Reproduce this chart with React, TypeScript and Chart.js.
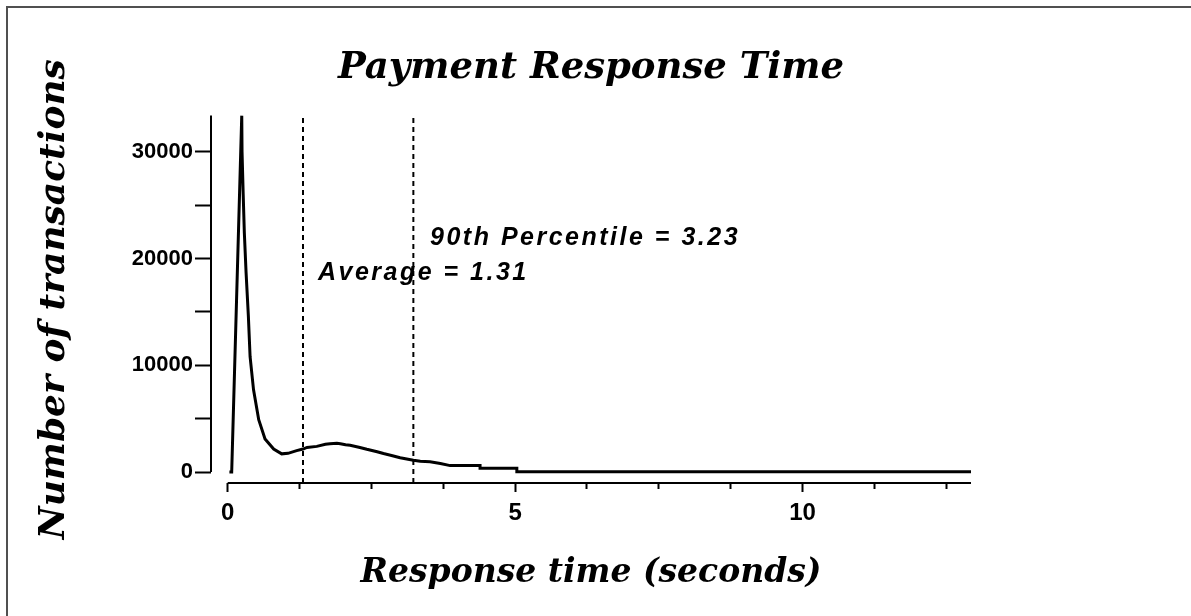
import React, { useEffect, useRef } from "react";
import { Chart, registerables } from "chart.js";

Chart.register(...registerables);

// ---- data ----
const responseTimes = [
  0.03, 0.07, 0.245, 0.25, 0.27, 0.29, 0.32, 0.36, 0.39, 0.45, 0.54, 0.65, 0.8, 0.94, 1.05,
  1.2, 1.31, 1.38, 1.55, 1.7, 1.78, 1.9, 1.96, 2.05, 2.13, 2.3, 2.42, 2.6, 2.71, 2.85, 3.0,
  3.23, 3.35, 3.52, 3.7, 3.87, 4.39, 4.39, 5.03, 5.03, 6.5, 8.0, 10.0, 12.93,
];
const transactionCounts = [
  0, 0, 33400, 30000, 26000, 22400, 18700, 14600, 10800, 7700, 4900, 3100, 2150, 1700, 1750,
  2000, 2150, 2300, 2400, 2600, 2650, 2700, 2650, 2550, 2500, 2300, 2130, 1900, 1730, 1550,
  1330, 1100, 1000, 950, 800, 600, 600, 350, 350, 30, 30, 30, 30, 30,
];
const xTickValues = [0, 1.25, 2.5, 3.75, 5, 6.25, 7.5, 8.75, 10, 11.25, 12.5];
const xLabelledTicks = [0, 5, 10];
const yTickValues = [0, 5000, 10000, 15000, 20000, 25000, 30000];
const yLabelledTicks = [0, 10000, 20000, 30000];

const averageTime = 1.31;
const percentile90Time = 3.23;
const averageLabel = "Average = 1.31";
const percentileLabel = "90th Percentile = 3.23";
const chartTitle = "Payment Response Time";
const xTitle = "Response time (seconds)";
const yTitle = "Number of transactions";

const X_MIN = -0.29;
const X_MAX = 12.93;
const Y_MIN = -1030;
const Y_MAX = 33400;

const serif = "'DejaVu Serif', serif";
const sans = "'Liberation Sans', Arial, sans-serif";

export default function App() {
  const ref = useRef<HTMLCanvasElement | null>(null);

  useEffect(() => {
    const canvas = ref.current;
    if (!canvas) return;

    const axisLines = {
      id: "axisLines",
      beforeDatasetsDraw(chart: any) {
        const { ctx, chartArea, scales } = chart;
        const x = scales.x;
        const y = scales.y;
        ctx.save();
        ctx.strokeStyle = "#000";
        ctx.lineWidth = 2;
        ctx.beginPath();
        ctx.moveTo(chartArea.left, chartArea.top);
        ctx.lineTo(chartArea.left, y.getPixelForValue(0));
        ctx.moveTo(x.getPixelForValue(0), chartArea.bottom);
        ctx.lineTo(chartArea.right, chartArea.bottom);
        ctx.stroke();
        ctx.restore();
      },
    };

    const annotations = {
      id: "annotations",
      afterDatasetsDraw(chart: any) {
        const { ctx, scales } = chart;
        const x = scales.x;
        const y = scales.y;
        ctx.save();
        ctx.fillStyle = "#000";
        ctx.font = `italic bold 25px ${sans}`;
        (ctx as any).letterSpacing = "2.5px";
        ctx.textBaseline = "alphabetic";
        ctx.textAlign = "left";
        ctx.fillText(percentileLabel, x.getPixelForValue(3.52), y.getPixelForValue(21270));
        ctx.fillText(averageLabel, x.getPixelForValue(1.57), y.getPixelForValue(18000));
        ctx.restore();
      },
    };

    const points = responseTimes.map((t, i) => ({ x: t, y: transactionCounts[i] }));
    const vline = (v: number) => [
      { x: v, y: Y_MIN },
      { x: v, y: Y_MAX },
    ];

    const chart = new Chart(canvas, {
      type: "line",
      data: {
        datasets: [
          {
            data: points,
            borderColor: "#000",
            borderWidth: 3,
            pointRadius: 0,
            tension: 0,
            fill: false,
          },
          {
            data: vline(averageTime),
            borderColor: "#000",
            borderWidth: 2,
            borderDash: [5, 4],
            pointRadius: 0,
          },
          {
            data: vline(percentile90Time),
            borderColor: "#000",
            borderWidth: 2,
            borderDash: [5, 4],
            pointRadius: 0,
          },
        ],
      },
      options: {
        responsive: false,
        animation: false,
        devicePixelRatio: 1,
        layout: { padding: { top: 0, left: 0, right: 220, bottom: 0 } },
        plugins: {
          legend: { display: false },
          tooltip: { enabled: false },
          title: {
            display: true,
            text: chartTitle,
            fullSize: false,
            color: "#000",
            font: { family: serif, size: 37, style: "italic", weight: "bold", lineHeight: 1.2 },
            padding: { top: 46, bottom: 25 },
          },
        },
        scales: {
          x: {
            type: "linear",
            min: X_MIN,
            max: X_MAX,
            afterBuildTicks(scale: any) {
              scale.ticks = xTickValues.map((v) => ({ value: v }));
            },
            afterFit(scale: any) {
              scale.height = 133;
            },
            border: { display: false },
            grid: {
              drawOnChartArea: false,
              drawTicks: true,
              tickLength: 9,
              tickWidth: 2,
              tickColor: "#000",
              tickBorderDash: (c: any) =>
                c.tick && xLabelledTicks.includes(c.tick.value) ? [] : [6, 40],
            },
            ticks: {
              autoSkip: false,
              maxRotation: 0,
              padding: 7,
              color: "#000",
              font: { family: sans, size: 24, weight: "bold" },
              callback: (v: any) => (xLabelledTicks.includes(Number(v)) ? String(v) : ""),
            },
            title: {
              display: true,
              text: xTitle,
              color: "#000",
              font: { family: serif, size: 33, style: "italic", weight: "bold", lineHeight: 1.2 },
              padding: { top: 0, bottom: 23 },
            },
          },
          y: {
            type: "linear",
            min: Y_MIN,
            max: Y_MAX,
            afterBuildTicks(scale: any) {
              scale.ticks = yTickValues.map((v) => ({ value: v }));
            },
            afterFit(scale: any) {
              scale.width = 211;
            },
            border: { display: false },
            grid: {
              drawOnChartArea: false,
              drawTicks: true,
              tickLength: 16,
              tickWidth: 2,
              tickColor: "#000",
            },
            ticks: {
              autoSkip: false,
              padding: 2,
              color: "#000",
              font: { family: sans, size: 22, weight: "bold" },
              callback: (v: any) => (yLabelledTicks.includes(Number(v)) ? String(v) : ""),
            },
            title: {
              display: true,
              text: yTitle,
              color: "#000",
              font: { family: serif, size: 36, style: "italic", weight: "bold", lineHeight: 1.2 },
              padding: { top: 33, bottom: 0 },
            },
          },
        },
      },
      plugins: [axisLines, annotations],
    } as any);

    return () => chart.destroy();
  }, []);

  return (
    <div
      style={{
        position: "fixed",
        left: 0,
        top: 0,
        width: 1191,
        height: 616,
        overflow: "hidden",
        background: "#fff",
      }}
    >
      <div
        style={{
          position: "absolute",
          left: 6,
          top: 6,
          width: 1400,
          height: 800,
          borderTop: "2px solid #505050",
          borderLeft: "2px solid #505050",
        }}
      />
      <canvas
        ref={ref}
        width={1191}
        height={616}
        style={{ position: "absolute", left: 0, top: 0, width: 1191, height: 616 }}
      />
    </div>
  );
}
